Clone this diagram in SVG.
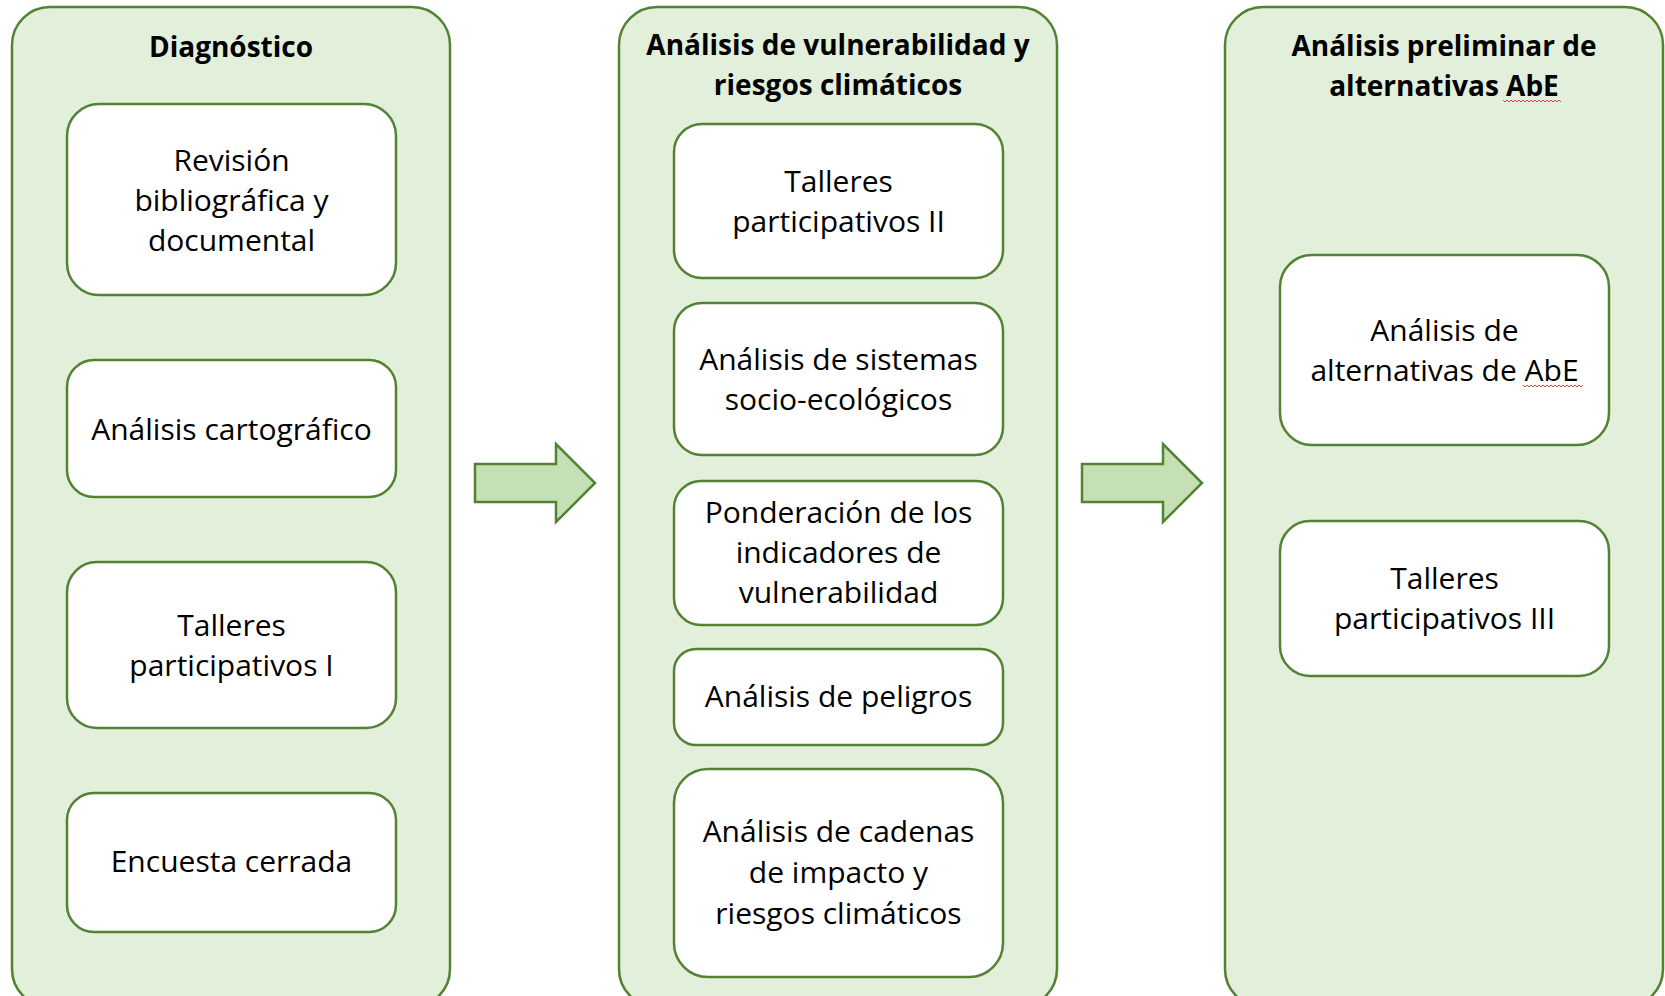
<svg xmlns="http://www.w3.org/2000/svg" width="1665" height="996" viewBox="0 0 1665 996">
<style>
.panel{fill:#E2EFDA;stroke:#548235;stroke-width:2.5}
.box{fill:#FFFFFF;stroke:#548235;stroke-width:2.5}
.arrow{fill:#C5E0B4;stroke:#548235;stroke-width:2.5;stroke-linejoin:miter}
.title{font-family:"Open Sans","Liberation Sans",sans-serif;font-weight:bold;font-size:28px;fill:#000;text-anchor:middle}
.t{font-family:"Open Sans","Liberation Sans",sans-serif;font-size:30px;fill:#000;text-anchor:middle}
.sq{fill:none;stroke:#E04040;stroke-width:1}
</style>
<rect width="1665" height="996" fill="#FFFFFF"/>

<g id="panel-diagnostico">
<rect class="panel" x="12" y="7" width="438" height="1000" rx="38"/>
<text class="title" x="231" y="57">Diagnóstico</text>
</g>
<g id="panel-vulnerabilidad">
<rect class="panel" x="619" y="7" width="438" height="1000" rx="38"/>
<text class="title" x="838" y="55">Análisis de vulnerabilidad y</text>
<text class="title" x="838" y="95">riesgos climáticos</text>
</g>
<g id="panel-alternativas">
<rect class="panel" x="1225" y="7" width="438" height="1000" rx="38"/>
<text class="title" x="1444" y="56">Análisis preliminar de</text>
<text class="title" x="1444" y="96">alternativas AbE</text>
<path class="sq" d="M1503 100 l2 2 l2 -2 l2 2 l2 -2 l2 2 l2 -2 l2 2 l2 -2 l2 2 l2 -2 l2 2 l2 -2 l2 2 l2 -2 l2 2 l2 -2 l2 2 l2 -2 l2 2 l2 -2 l2 2 l2 -2 l2 2 l2 -2 l2 2 l2 -2 l2 2 l2 -2 l2 2"/>
</g>

<g id="n-revision">
<rect class="box" x="67" y="104" width="329" height="191" rx="32"/>
<text class="t" x="231.5" y="171">Revisión</text>
<text class="t" x="231.5" y="211">bibliográfica y</text>
<text class="t" x="231.5" y="251">documental</text>
</g>
<g id="n-cartografico">
<rect class="box" x="67" y="360" width="329" height="137" rx="27"/>
<text class="t" x="231.5" y="440">Análisis cartográfico</text>
</g>
<g id="n-talleres1">
<rect class="box" x="67" y="562" width="329" height="166" rx="30"/>
<text class="t" x="231.5" y="636">Talleres</text>
<text class="t" x="231.5" y="676">participativos I</text>
</g>
<g id="n-encuesta">
<rect class="box" x="67" y="793" width="329" height="139" rx="27"/>
<text class="t" x="231.5" y="872">Encuesta cerrada</text>
</g>

<g id="n-talleres2">
<rect class="box" x="674" y="124" width="329" height="154" rx="28"/>
<text class="t" x="838.5" y="192">Talleres</text>
<text class="t" x="838.5" y="232">participativos II</text>
</g>
<g id="n-sistemas">
<rect class="box" x="674" y="303" width="329" height="152" rx="28"/>
<text class="t" x="838.5" y="370">Análisis de sistemas</text>
<text class="t" x="838.5" y="410">socio-ecológicos</text>
</g>
<g id="n-ponderacion">
<rect class="box" x="674" y="481" width="329" height="144" rx="27"/>
<text class="t" x="838.5" y="523">Ponderación de los</text>
<text class="t" x="838.5" y="563">indicadores de</text>
<text class="t" x="838.5" y="603">vulnerabilidad</text>
</g>
<g id="n-peligros">
<rect class="box" x="674" y="649" width="329" height="96" rx="22"/>
<text class="t" x="838.5" y="707">Análisis de peligros</text>
</g>
<g id="n-cadenas">
<rect class="box" x="674" y="769" width="329" height="208" rx="34"/>
<text class="t" x="838.5" y="842">Análisis de cadenas</text>
<text class="t" x="838.5" y="883">de impacto y</text>
<text class="t" x="838.5" y="924">riesgos climáticos</text>
</g>

<g id="n-alternativas">
<rect class="box" x="1280" y="255" width="329" height="190" rx="32"/>
<text class="t" x="1444.5" y="341">Análisis de</text>
<text class="t" x="1444.5" y="381">alternativas de AbE</text>
<path class="sq" d="M1523 385 l2 2 l2 -2 l2 2 l2 -2 l2 2 l2 -2 l2 2 l2 -2 l2 2 l2 -2 l2 2 l2 -2 l2 2 l2 -2 l2 2 l2 -2 l2 2 l2 -2 l2 2 l2 -2 l2 2 l2 -2 l2 2 l2 -2 l2 2 l2 -2 l2 2 l2 -2 l2 2 l2 -2"/>
</g>
<g id="n-talleres3">
<rect class="box" x="1280" y="521" width="329" height="155" rx="30"/>
<text class="t" x="1444.5" y="589">Talleres</text>
<text class="t" x="1444.5" y="629">participativos III</text>
</g>

<g id="connectors">
<path class="arrow" d="M475 464 L556 464 L556 444 L595 483 L556 522 L556 502 L475 502 Z"/>
<path class="arrow" d="M1082 464 L1163 464 L1163 444 L1202 483 L1163 522 L1163 502 L1082 502 Z"/>
</g>
</svg>
